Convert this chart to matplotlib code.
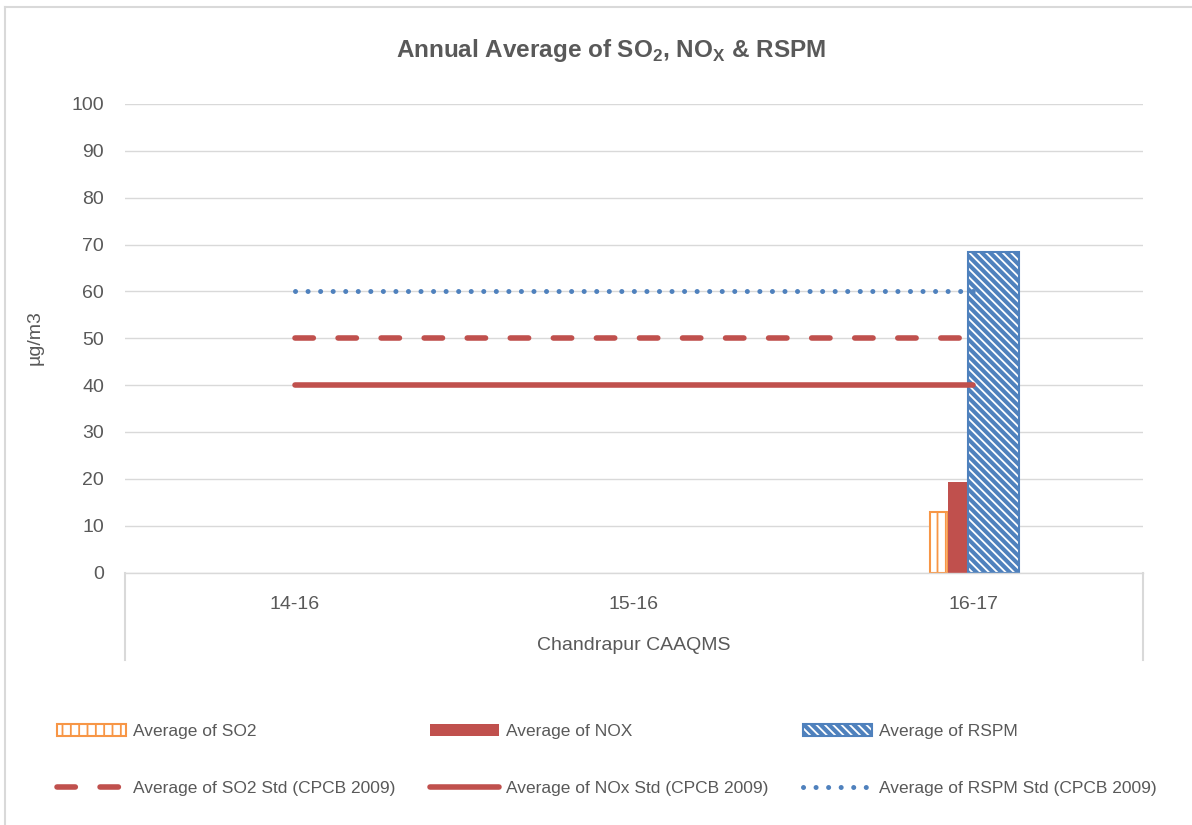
import matplotlib
matplotlib.use("Agg")
import matplotlib.pyplot as plt
from matplotlib.lines import Line2D
import numpy as np

plt.rcParams['font.family'] = ['Liberation Sans', 'DejaVu Sans']
plt.rcParams['hatch.linewidth'] = 1.3

# data
categories = ['14-16', '15-16', '16-17']
so2_avg = [np.nan, np.nan, 12.9]
nox_avg = [np.nan, np.nan, 19.3]
rspm_avg = [np.nan, np.nan, 68.5]
so2_std = [50, 50, 50]
nox_std = [40, 40, 40]
rspm_std = [60, 60, 60]
yticks = list(range(0, 101, 10))

RED = '#C0504D'
BLUE = '#4F81BD'
ORANGE = '#F79646'
TXT = '#595959'
GRID = '#D9D9D9'
FS = 12.5     # legend
FS_AX = 14    # axis texts

W, H = 1192, 825
fig = plt.figure(figsize=(W / 100, H / 100), dpi=100)
ax = fig.add_axes([125 / W, 1 - 572.5 / H, 1018 / W, 468.5 / H])

x = np.arange(len(categories))

# bars (offsets / widths as in the original layout)
b_so2 = ax.bar(x - 0.128, so2_avg, width=0.054, align='edge', facecolor='white',
               edgecolor=ORANGE, hatch='||', linewidth=1.5, zorder=2)
b_nox = ax.bar(x - 0.074, nox_avg, width=0.059, align='edge', color=RED,
               linewidth=0, zorder=2)
b_rspm = ax.bar(x - 0.015, rspm_avg, width=0.149, align='edge', facecolor=BLUE,
                edgecolor='white', hatch='\\\\\\\\', linewidth=0, zorder=2)
b_rspm_o = ax.bar(x - 0.015, rspm_avg, width=0.149, align='edge', fill=False,
                  edgecolor=BLUE, linewidth=1.5, zorder=2)

# standard lines
l_so2, = ax.plot(x, so2_std, color=RED, lw=4, dashes=(3.3, 4.45),
                 dash_capstyle='round', solid_capstyle='round', zorder=3)
l_nox, = ax.plot(x, nox_std, color=RED, lw=4, solid_capstyle='round', zorder=3)
l_rspm, = ax.plot(x, rspm_std, color=BLUE, lw=3.6, dashes=(0.01, 2.5),
                  dash_capstyle='round', zorder=3)

ax.set_xlim(-0.5, 2.5)
ax.set_ylim(0, 100)
ax.set_yticks(yticks)
ax.set_xticks(x)
ax.set_xticklabels(categories)
ax.tick_params(axis='both', length=0, labelsize=FS_AX, labelcolor=TXT)
ax.tick_params(axis='y', pad=15)
ax.tick_params(axis='x', pad=17)
ax.grid(axis='y', color=GRID, lw=1, zorder=0)
ax.set_axisbelow(True)
for s in ['top', 'right', 'left']:
    ax.spines[s].set_visible(False)
ax.spines['bottom'].set_color(GRID)
ax.spines['bottom'].set_linewidth(1)

# category box lines below axis
for xx in (0, 1):
    ax.add_line(Line2D([xx, xx], [0, -(660 - 572.5) / 468.5], transform=ax.transAxes,
                       color=GRID, lw=1.5, clip_on=False))

fig.text(634 / W, 1 - 646 / H, 'Chandrapur CAAQMS', ha='center', va='center',
         fontsize=FS_AX, color=TXT)
fig.text(35 / W, 1 - 338 / H, 'µg/m3', rotation=90, ha='center', va='center',
         fontsize=FS_AX, color=TXT)
fig.text(611 / W, 1 - 50 / H,
         r'Annual Average of SO$_\mathregular{2}$, NO$_\mathregular{X}$ & RSPM',
         ha='center', va='center', fontsize=17.5, fontweight='bold', color=TXT)

# legend: three columns laid out like the original
cols = [
    ([b_so2.patches[-1], l_so2], ['Average of SO2', 'Average of SO2 Std (CPCB 2009)'], 57),
    ([b_nox.patches[-1], l_nox], ['Average of NOX', 'Average of NOx Std (CPCB 2009)'], 430),
    ([(b_rspm.patches[-1], b_rspm_o.patches[-1]), l_rspm],
     ['Average of RSPM', 'Average of RSPM Std (CPCB 2009)'], 803),
]
for handles, labels, xpx in cols:
    leg = fig.legend(handles, labels, loc='center left',
                     bbox_to_anchor=(xpx / W, 1 - 760 / H), frameon=False,
                     borderpad=0, borderaxespad=0, handlelength=4.0,
                     handletextpad=0.4, labelspacing=2.42, fontsize=FS)
    for t in leg.get_texts():
        t.set_color(TXT)

# outer border (left and top visible)
fig.add_artist(Line2D([5 / W, 5 / W], [0, 1 - 7 / H], color=GRID, lw=1.5))
fig.add_artist(Line2D([5 / W, 1], [1 - 7 / H, 1 - 7 / H], color=GRID, lw=1.5))

fig.savefig('out.png', dpi=100)
